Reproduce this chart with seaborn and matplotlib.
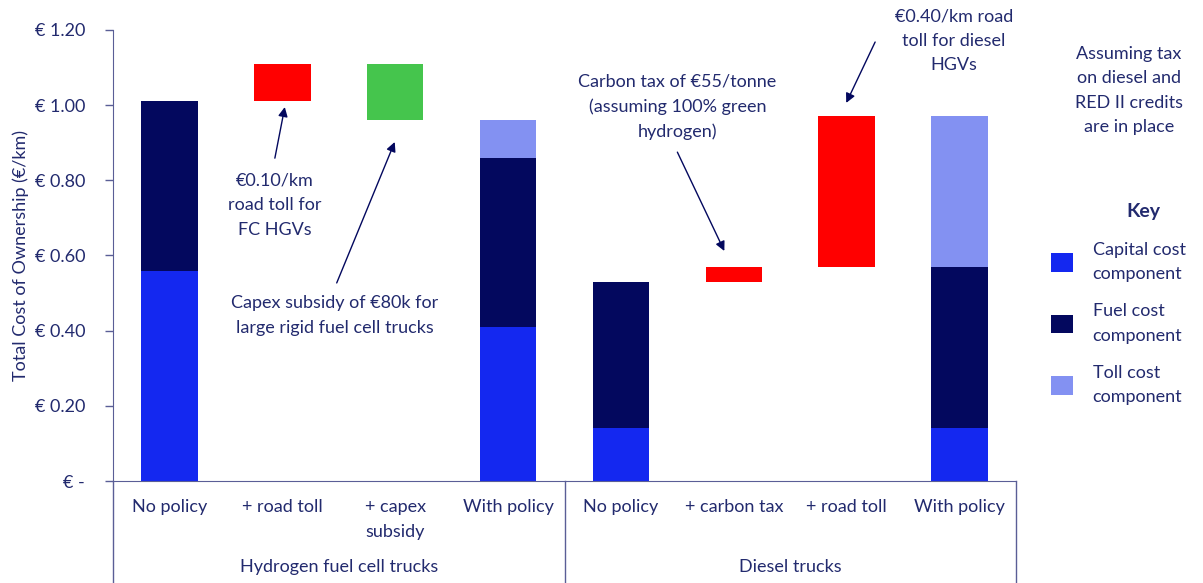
import numpy as np
import pandas as pd
import seaborn as sns
import matplotlib.pyplot as plt
from matplotlib.patches import Patch

# bar slots, left to right
keys = ["h_none", "h_toll", "h_capex", "h_policy", "d_none", "d_carbon", "d_toll", "d_policy"]
tick_labels = ["No policy", "+ road toll", "+ capex\nsubsidy", "With policy",
               "No policy", "+ carbon tax", "+ road toll", "With policy"]
groups = ["Hydrogen fuel cell trucks", "Diesel trucks"]

# stacked cost components (EUR/km)
capital = [0.56, 0, 0, 0.41, 0.14, 0, 0, 0.14]
fuel = [0.45, 0, 0, 0.45, 0.39, 0, 0, 0.43]
toll = [0, 0, 0, 0.10, 0, 0, 0, 0.40]

# floating policy steps
increase = [0, 0.10, 0, 0, 0, 0.04, 0.40, 0]
increase_base = [0, 1.01, 0, 0, 0, 0.53, 0.57, 0]
decrease = [0, 0, 0.15, 0, 0, 0, 0, 0]
decrease_base = [0, 0, 0.96, 0, 0, 0, 0, 0]

yticks = [0, 0.2, 0.4, 0.6, 0.8, 1.0, 1.2]
ytick_labels = ["€ -", "€ 0.20", "€ 0.40", "€ 0.60", "€ 0.80", "€ 1.00", "€ 1.20"]

c_capital = "#1428F0"
c_fuel = "#03085E"
c_toll = "#8391F2"
c_red = "#FF0000"
c_green = "#45C54D"
navy = "#222A6E"
axis_col = "#5A5E96"
LS = 1.65

plt.rcParams['font.family'] = ['Lato', 'DejaVu Sans']
plt.rcParams['font.size'] = 13

fig = plt.figure(figsize=(12.03, 5.83), dpi=100)
ax = fig.add_axes([113 / 1203, 102 / 583, 903 / 1203, 451 / 583])

capital = np.array(capital)
fuel = np.array(fuel)
toll = np.array(toll)

layers = [
    (capital, np.zeros(8), c_capital),
    (fuel, capital, c_fuel),
    (toll, capital + fuel, c_toll),
    (np.array(increase), np.array(increase_base), c_red),
    (np.array(decrease), np.array(decrease_base), c_green),
]
for heights, base, col in layers:
    df = pd.DataFrame({"key": keys, "value": heights})
    sns.barplot(data=df, x="key", y="value", order=keys, bottom=base,
                color=col, saturation=1, width=0.5, linewidth=0, ax=ax)

ax.set_xlim(-0.5, 7.5)
ax.set_ylim(0, 1.2)
ax.set_yticks(yticks)
ax.set_yticklabels(ytick_labels, color=navy)
ax.set_xticks(range(8))
ax.set_xticklabels(tick_labels, color=navy, va="top", linespacing=LS)
ax.tick_params(axis="x", length=0, pad=13)
ax.tick_params(axis="y", length=6, width=1, color=axis_col, pad=14)
for s in ["top", "right"]:
    ax.spines[s].set_visible(False)
for s in ["left", "bottom"]:
    ax.spines[s].set_color(axis_col)
ax.set_xlabel("")
ax.set_ylabel("Total Cost of Ownership (€/km)", color=navy, fontsize=13)
ax.yaxis.set_label_coords(-0.093, 0.5)

# group separators below the axis
xtr = ax.get_xaxis_transform()
for xv in [-0.5, 3.5, 7.5]:
    ax.plot([xv, xv], [0, -0.23], transform=xtr, color=axis_col, lw=1, clip_on=False)
ax.text(1.5, -0.19, groups[0], transform=xtr, ha="center", va="center", color=navy)
ax.text(5.5, -0.19, groups[1], transform=xtr, ha="center", va="center", color=navy)

arrow = dict(arrowstyle="-|>", color=c_fuel, lw=1, mutation_scale=14, shrinkA=0, shrinkB=0)
ax.annotate("", xy=(1.022, 0.995), xytext=(0.934, 0.859), arrowprops=arrow)
ax.text(0.934, 0.734, "€0.10/km\nroad toll for\nFC HGVs", ha="center", va="center",
        color=navy, linespacing=LS)
ax.annotate("", xy=(1.996, 0.902), xytext=(1.482, 0.527), arrowprops=arrow)
ax.text(1.465, 0.440, "Capex subsidy of €80k for\nlarge rigid fuel cell trucks",
        ha="center", va="center", color=navy, linespacing=LS)
ax.annotate("", xy=(4.916, 0.612), xytext=(4.5, 0.875), arrowprops=arrow)
ax.text(4.5, 0.995, "Carbon tax of €55/tonne\n(assuming 100% green\nhydrogen)",
        ha="center", va="center", color=navy, linespacing=LS)
ax.annotate("", xy=(5.996, 1.006), xytext=(6.252, 1.168), arrowprops=arrow,
            annotation_clip=False)
ax.text(6.95, 1.171, "€0.40/km road\ntoll for diesel\nHGVs", ha="center", va="center",
        color=navy, linespacing=LS, clip_on=False)

fig.text(1129 / 1203, 1 - 90.5 / 583, "Assuming tax\non diesel and\nRED II credits\nare in place",
         ha="center", va="center", color=navy, linespacing=LS)
fig.text(1143 / 1203, 1 - 211 / 583, "Key", ha="center", va="center", color=navy,
         fontweight="bold", fontsize=14)

handles = [Patch(facecolor=c_capital), Patch(facecolor=c_fuel), Patch(facecolor=c_toll)]
leg = fig.legend(handles, ["Capital cost\ncomponent", "Fuel cost\ncomponent", "Toll cost\ncomponent"],
                 loc="upper left", bbox_to_anchor=(1051 / 1203, 1 - 242 / 583), frameon=False,
                 handlelength=1.2, handleheight=1.2, handletextpad=1.1, labelspacing=1.16,
                 labelcolor=navy, borderaxespad=0, borderpad=0)
for t in leg.get_texts():
    t.set_linespacing(LS)

fig.savefig("out.png", dpi=100)
